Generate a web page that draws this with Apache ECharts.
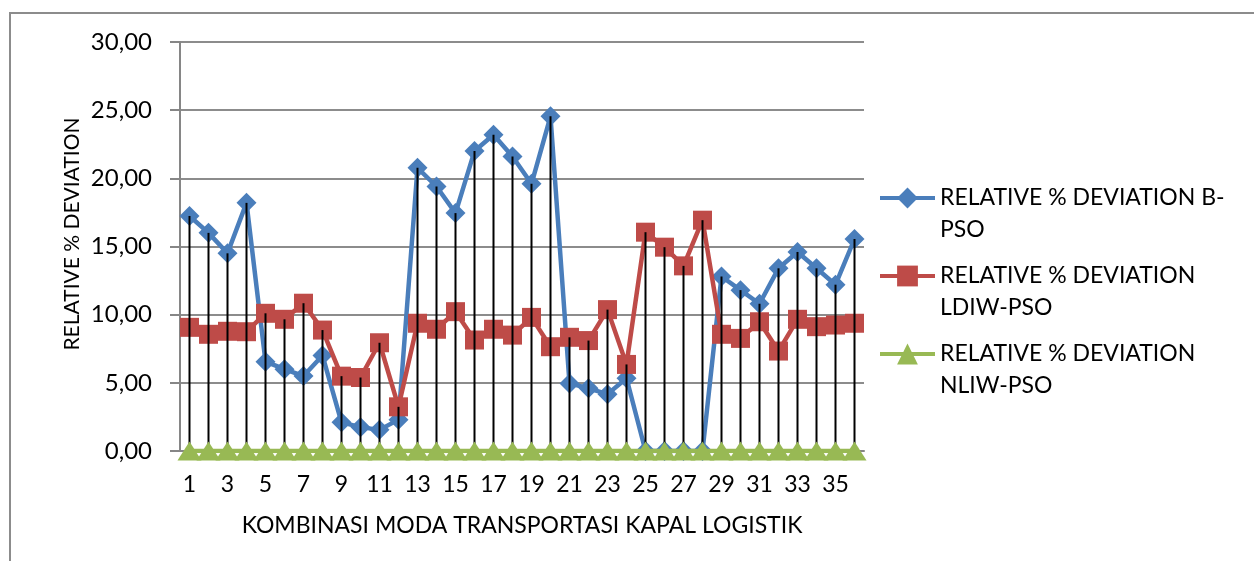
<!DOCTYPE html>
<html>
<head>
<meta charset="utf-8">
<script src="https://cdn.jsdelivr.net/npm/echarts@6/dist/echarts.min.js"></script>
<style>
html,body{margin:0;padding:0;background:#fff;}
#chart{width:1254px;height:561px;}
</style>
</head>
<body>
<div id="chart"></div>
<script>
const categories = ['1','2','3','4','5','6','7','8','9','10','11','12','13','14','15','16','17','18','19','20','21','22','23','24','25','26','27','28','29','30','31','32','33','34','35','36'];
const seriesNames = ['RELATIVE % DEVIATION B-PSO','RELATIVE % DEVIATION LDIW-PSO','RELATIVE % DEVIATION NLIW-PSO'];
const legendLabels = ['RELATIVE % DEVIATION B-\nPSO','RELATIVE % DEVIATION\nLDIW-PSO','RELATIVE % DEVIATION\nNLIW-PSO'];
const bPso = [17.24,16.0,14.5,18.2,6.55,6.0,5.5,7.0,2.1,1.75,1.55,2.3,20.77,19.4,17.45,22.0,23.2,21.6,19.6,24.55,4.96,4.6,4.17,5.34,0,0,0,0,12.8,11.8,10.8,13.4,14.6,13.4,12.2,15.55];
const ldiwPso = [9.07,8.56,8.78,8.75,10.1,9.66,10.84,8.87,5.49,5.39,7.94,3.24,9.37,8.93,10.22,8.14,8.93,8.5,9.8,7.65,8.34,8.1,10.37,6.35,16.05,14.95,13.58,16.93,8.56,8.26,9.48,7.33,9.66,9.12,9.24,9.37];
const nliwPso = [0,0,0,0,0,0,0,0,0,0,0,0,0,0,0,0,0,0,0,0,0,0,0,0,0,0,0,0,0,0,0,0,0,0,0,0];
const yTickLabels = ['0,00','5,00','10,00','15,00','20,00','25,00','30,00'];
const xTitle = 'KOMBINASI MODA TRANSPORTASI KAPAL LOGISTIK';
const yTitle = 'RELATIVE % DEVIATION';

const dropData = categories.map((c, i) => [i, Math.max(bPso[i], ldiwPso[i], nliwPso[i])]);
const FONT = 'Lato';
const colors = ['#4A7EBB', '#BE4B48', '#98B954'];

const chart = echarts.init(document.getElementById('chart'), null, {renderer: 'canvas'});

function legendFor(idx, top) {
  return {
    show: true,
    data: [seriesNames[idx]],
    left: 878,
    top: top,
    padding: 0,
    itemWidth: 55,
    itemHeight: 26,
    itemGap: 5,
    selectedMode: false,
    lineStyle: {width: 4},
    formatter: () => '\n' + legendLabels[idx],
    textStyle: {fontFamily: FONT, fontSize: 23, color: '#000', lineHeight: 32}
  };
}

chart.setOption({
  animation: false,
  backgroundColor: '#fff',
  color: colors,
  textStyle: {fontFamily: FONT},
  grid: {left: 180, right: 390, top: 42, bottom: 110, containLabel: false},
  legend: [legendFor(0, 150), legendFor(1, 228), legendFor(2, 306)],
  graphic: [
    {type: 'polyline', shape: {points: [[10, 561], [10, 13], [1254, 13]]}, style: {stroke: '#8c8c8c', lineWidth: 2, fill: null}, silent: true},
    {type: 'text', x: 72, y: 234, rotation: Math.PI / 2, style: {text: yTitle, fontFamily: FONT, fontSize: 21, fill: '#000', align: 'center', verticalAlign: 'middle'}, silent: true}
  ],
  xAxis: {
    type: 'category',
    data: categories,
    boundaryGap: true,
    axisLine: {show: true, lineStyle: {color: '#868686', width: 2}},
    axisTick: {show: false},
    axisLabel: {interval: 1, margin: 22, fontFamily: FONT, fontSize: 23, color: '#000'},
    splitLine: {show: false},
    name: xTitle,
    nameLocation: 'middle',
    nameGap: 63,
    nameTextStyle: {fontFamily: FONT, fontSize: 23, color: '#000'}
  },
  yAxis: {
    type: 'value',
    min: 0,
    max: 30,
    interval: 5,
    axisLine: {show: true, lineStyle: {color: '#868686', width: 2}},
    axisTick: {show: true, length: 10, lineStyle: {color: '#868686', width: 2}},
    axisLabel: {margin: 28, fontFamily: FONT, fontSize: 24, color: '#000', formatter: (v) => yTickLabels[Math.round(v / 5)]},
    splitLine: {show: true, lineStyle: {color: '#8c8c8c', width: 2}}
  },
  series: [
    {
      name: seriesNames[0], type: 'line', data: bPso, z: 3,
      symbol: 'diamond', symbolSize: 20, showAllSymbol: true,
      lineStyle: {width: 4.5, color: colors[0]}, itemStyle: {color: colors[0]}
    },
    {
      name: seriesNames[1], type: 'line', data: ldiwPso, z: 4,
      symbol: 'rect', symbolSize: 19, showAllSymbol: true,
      lineStyle: {width: 4.5, color: colors[1]}, itemStyle: {color: colors[1]}
    },
    {
      type: 'custom', z: 5, silent: true,
      data: dropData,
      renderItem: (params, api) => {
        const top = api.coord([api.value(0), api.value(1)]);
        const bot = api.coord([api.value(0), 0]);
        return {type: 'line', shape: {x1: top[0], y1: top[1], x2: bot[0], y2: bot[1]}, style: {stroke: '#000', lineWidth: 2}};
      }
    },
    {
      name: seriesNames[2], type: 'line', data: nliwPso, z: 6,
      symbol: 'triangle', symbolSize: [24, 19], showAllSymbol: true,
      lineStyle: {width: 4.5, color: colors[2]}, itemStyle: {color: colors[2]}
    }
  ]
});
</script>
</body>
</html>
